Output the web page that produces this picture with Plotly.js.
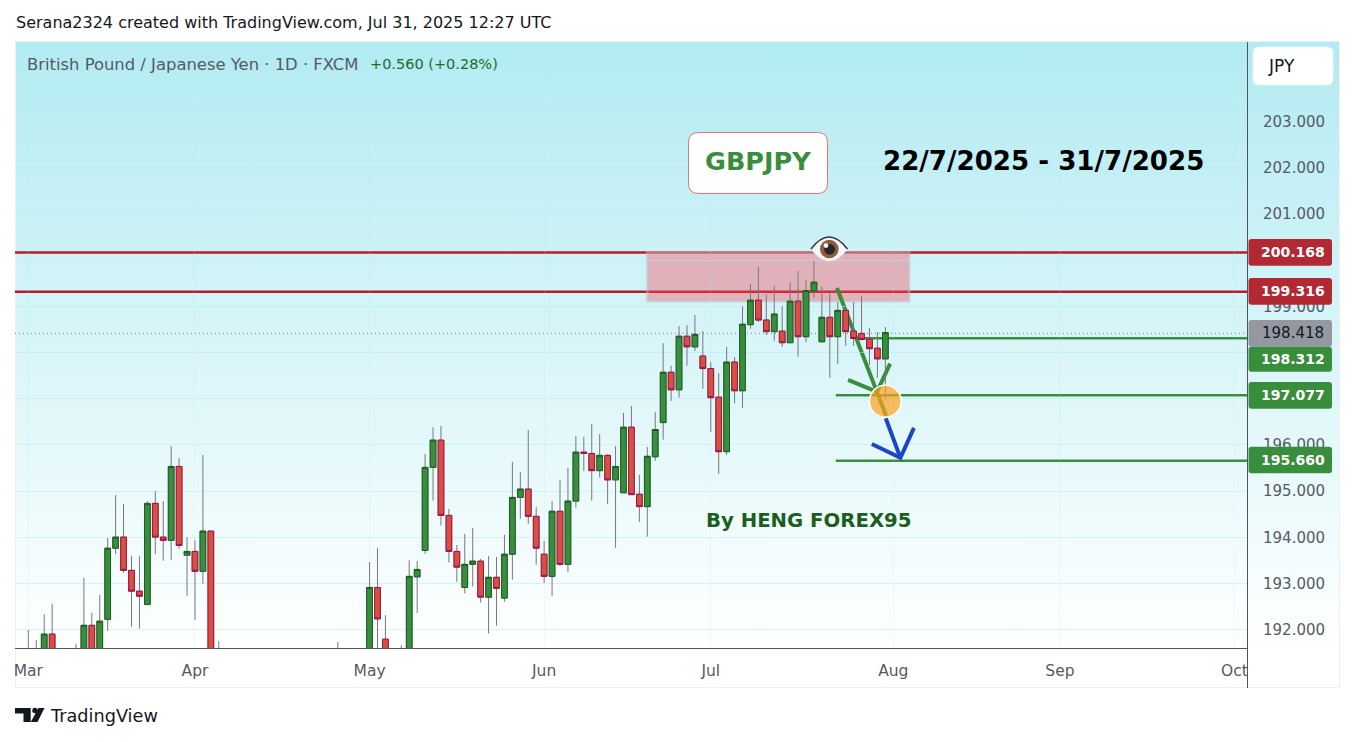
<!DOCTYPE html>
<html>
<head>
<meta charset="utf-8">
<script src="https://cdn.plot.ly/plotly-3.0.1.min.js"></script>
<style>
html,body{margin:0;padding:0;background:#fff;width:1355px;height:742px;overflow:hidden}
#panel{position:absolute;left:15px;top:41px;width:1325px;height:647px;box-sizing:border-box;border:1px solid #eef1f2;
background:linear-gradient(to bottom,#b2ebf2 0,#ffffff 606px)}
#chart{position:absolute;left:0;top:0;width:1355px;height:742px}
</style>
</head>
<body>
<div id="panel"></div>
<div id="chart"></div>
<script>
// Trading-day index of each visible candle (0 = 3 Mar 2025, 108 = 31 Jul 2025)
const candleIndex=[0,1,2,3,6,7,8,9,10,11,12,13,14,15,16,17,18,19,20,21,22,23,24,39,43,44,45,47,48,49,50,51,52,53,54,55,56,57,58,59,60,61,62,63,64,65,66,67,68,69,70,71,72,73,74,75,76,77,78,79,80,81,82,83,84,85,86,87,88,89,90,91,92,93,94,95,96,97,98,99,100,101,102,103,104,105,106,107,108];
const opens=[191.5,191.4,191.3,191.89,191.4,191.2,192.08,191.3,192.21,193.75,193.99,193.27,192.82,192.53,194.72,193.99,193.92,195.52,193.6,193.68,193.25,194.12,191.0,191.3,191.0,192.9,191.78,191.45,191.2,193.13,193.7,195.5,196.09,194.46,193.68,192.9,193.4,193.47,192.69,193.12,192.67,193.62,194.85,195.03,194.44,193.62,193.14,194.55,193.4,194.77,195.83,195.8,195.43,195.76,195.23,194.95,196.37,194.92,194.65,195.73,196.47,197.56,197.18,198.34,198.11,197.91,197.64,197.02,195.84,197.78,197.16,198.59,199.12,198.69,198.44,198.45,198.2,199.1,198.33,199.32,198.22,198.75,198.33,198.9,198.45,198.4,198.28,198.08,197.85];
const highs=[191.98,191.76,192.32,192.54,191.68,193.11,192.35,192.74,193.97,194.9,194.71,193.58,193.58,194.77,194.99,194.77,195.96,195.7,193.99,193.92,195.77,194.12,191.74,191.72,193.45,193.75,192.3,191.65,193.49,193.47,195.79,196.37,196.4,194.6,193.82,194.06,194.19,193.52,193.58,193.56,194.04,195.62,195.4,196.31,194.64,193.91,194.77,195.23,195.49,196.18,196.16,196.44,196.22,195.79,195.96,196.68,196.83,195.34,195.94,196.7,198.19,197.7,198.56,198.58,198.8,198.45,197.78,197.54,198.11,197.89,198.99,199.47,199.84,199.25,199.43,198.99,199.51,199.75,199.56,199.97,199.41,199.29,199.08,198.9,199.08,199.21,198.52,198.43,198.54];
const lows=[191.2,191.1,191.1,191.0,191.0,191.0,191.1,191.1,191.96,193.62,193.22,192.05,192.01,192.53,193.62,193.48,193.49,193.74,192.72,192.2,192.98,190.8,189.5,191.0,190.9,191.2,191.1,191.1,191.1,192.35,193.63,194.78,194.24,193.44,193.02,192.77,192.92,192.57,191.9,192.07,192.59,193.07,194.39,194.28,193.39,193.0,192.72,193.37,193.24,194.63,195.42,194.78,195.28,194.71,193.76,194.95,194.91,194.32,194.0,195.64,196.1,196.94,197.01,197.7,198.02,197.2,196.27,195.36,195.77,196.89,196.79,198.5,198.65,198.37,198.24,198.11,198.2,197.89,198.21,199.17,198.22,197.44,197.74,198.13,198.13,198.25,197.72,197.44,196.96];
const closes=[191.4,191.5,191.89,191.2,191.2,192.08,191.3,192.17,193.75,193.99,193.27,192.82,192.71,194.72,193.99,193.92,195.52,193.81,193.68,193.25,194.12,191.0,190.0,191.1,192.9,192.22,191.3,191.3,193.14,193.29,195.5,196.09,194.46,193.68,193.34,193.4,193.47,192.69,193.12,192.88,193.62,194.85,195.03,194.44,193.75,193.14,194.55,193.4,194.77,195.83,195.8,195.43,195.76,195.23,195.52,196.37,194.91,194.65,195.74,196.32,197.56,197.18,198.34,198.11,198.38,197.64,197.01,195.84,197.78,197.16,198.6,199.12,198.69,198.44,198.82,198.2,199.1,198.33,199.33,199.51,198.75,198.33,198.9,198.44,198.29,198.27,198.07,197.85,198.418];

const priceTicks=[192,193,194,195,196,197,198,199,200,201,202,203];
const priceLabels=['192.000','193.000','194.000','195.000','196.000','','','199.000','','201.000','202.000','203.000'];
const monthTicks=[0,21,43,65,86,109,130,152];
const monthLabels=['Mar','Apr','May','Jun','Jul','Aug','Sep','Oct'];

const resistanceLevels=[200.168,199.316];
const lastPrice=198.418;
const supportLevels=[198.312,197.077,195.660];
const supportStarts=[105,101.75,101.75];
const zoneIndex=[78,111];

const GREEN='#388e3c',RED='#b22833',DARKGREEN='#1b5e20',FONT='"DejaVu Sans",sans-serif';
const L=15,R=1248,T=42,B=648;
const PX=x=>(x-L)/(R-L), PY=y=>(B-y)/(B-T);
const pt=(x,y)=>PX(x).toFixed(5)+' '+PY(y).toFixed(5);
function roundRect(x0,y0,x1,y1,r){
  return 'M'+pt(x0+r,y0)+' L'+pt(x1-r,y0)+' Q'+pt(x1,y0)+' '+pt(x1,y0+r)+' L'+pt(x1,y1-r)+' Q'+pt(x1,y1)+' '+pt(x1-r,y1)+' L'+pt(x0+r,y1)+' Q'+pt(x0,y1)+' '+pt(x0,y1-r)+' L'+pt(x0,y0+r)+' Q'+pt(x0,y0)+' '+pt(x0+r,y0)+' Z';
}
const paperPath=(path,fill,line,width,layer)=>({type:'path',xref:'paper',yref:'paper',path,fillcolor:fill,line:{color:line||'rgba(0,0,0,0)',width:width||0},layer:layer||'above'});
const circle=(cx,cy,r,fill)=>({type:'circle',xref:'paper',yref:'paper',x0:PX(cx-r),x1:PX(cx+r),y0:PY(cy+r),y1:PY(cy-r),fillcolor:fill,line:{width:0},layer:'above'});
const dataPath=(path,color,width,layer)=>({type:'path',xref:'x',yref:'y',path,line:{color,width},layer:layer||'below'});

const shapes=[];
// support / resistance zone
shapes.push({type:'rect',xref:'x',yref:'y',x0:zoneIndex[0],x1:zoneIndex[1],y0:199.11,y1:resistanceLevels[0],fillcolor:'rgba(252,71,86,0.38)',line:{color:'rgba(190,190,200,0.45)',width:3},layer:'below'});
resistanceLevels.forEach(v=>shapes.push({type:'line',xref:'paper',yref:'y',x0:0,x1:1,y0:v,y1:v,line:{color:'#b71c2c',width:2.5},layer:'below'}));
shapes.push({type:'line',xref:'paper',yref:'y',x0:0,x1:1,y0:lastPrice,y1:lastPrice,line:{color:'#787b86',width:1,dash:'1px,3px'},layer:'below'});
supportLevels.forEach((v,i)=>shapes.push({type:'line',xref:'x',yref:'y',x0:supportStarts[i],x1:153.7,y0:v,y1:v,line:{color:GREEN,width:2.5},layer:'below'}));
// green arrow
shapes.push(dataPath('M101.9 199.40 L108.1 196.63',GREEN,4));
shapes.push(dataPath('M103.3 197.41 L106.95 197.15 L108.6 197.76',GREEN,4));
// blue arrow
shapes.push(dataPath('M108.05 196.58 L109.9 195.72','#1a47c8',4,'above'));
shapes.push(dataPath('M106.3 196.02 L109.9 195.72 L111.6 196.37','#1a47c8',4,'above'));
// orange marker
shapes.push({type:'circle',xref:'x',yref:'y',x0:106,x1:110,y0:196.6,y1:197.295,fillcolor:'rgba(253,161,30,0.7)',line:{color:'#ffffff',width:1.5},layer:'above'});
// eye
shapes.push(paperPath('M'+pt(811,249)+' Q'+pt(829,225)+' '+pt(847.5,249)+' Q'+pt(829,273)+' '+pt(811,249)+' Z','#f4f7f9','#e4e8ec',1));
shapes.push(paperPath('M'+pt(811,249)+' Q'+pt(829,225)+' '+pt(847.5,249),'rgba(0,0,0,0)','#33363d',1.5));
shapes.push(circle(829.3,249,9.3,'#8f5b3a'));
shapes.push(circle(829.6,249.3,5.4,'#23262b'));
shapes.push(circle(826,245.6,2.4,'#ffffff'));
// GBPJPY box
shapes.push(paperPath(roundRect(688.5,132.5,827.5,193.5,10),'#ffffff','#e57373',1));
// currency box
shapes.push(paperPath(roundRect(1253,47,1333,85,6),'#ffffff','#eef1f2',1));
// clip of the time labels and lower axis line
shapes.push({type:'rect',xref:'paper',yref:'paper',x0:PX(0),x1:PX(14.5),y0:PY(688),y1:PY(650),fillcolor:'#ffffff',line:{width:0},layer:'above'});
shapes.push({type:'rect',xref:'paper',yref:'paper',x0:PX(1248),x1:PX(1339),y0:PY(687),y1:PY(649),fillcolor:'#ffffff',line:{width:0},layer:'above'});
shapes.push({type:'line',xref:'paper',yref:'paper',x0:PX(1247.5),x1:PX(1247.5),y0:PY(42),y1:PY(688),line:{color:'#50535e',width:1},layer:'above'});
// price labels
const labelBoxes=[[239,265.7,RED],[278,304.7,RED],[320,346.7,'#9598a1'],[346.7,371.7,GREEN],[382,408.7,GREEN],[446.7,473.3,GREEN]];
labelBoxes.forEach(b=>shapes.push(paperPath(roundRect(1248.5,b[0],1332,b[1],3),b[2])));
// TradingView logo
shapes.push(paperPath('M'+pt(15,708)+' L'+pt(30.7,708)+' L'+pt(30.7,722)+' L'+pt(23.5,722)+' L'+pt(23.5,713.5)+' L'+pt(15,713.5)+' Z','#131722'));
shapes.push(circle(35,710.5,2.7,'#131722'));
shapes.push(paperPath('M'+pt(38.5,708)+' L'+pt(44.5,708)+' L'+pt(37.5,722)+' L'+pt(30.8,722)+' Z','#131722'));

const note=(x,y,text,size,color,extra)=>Object.assign({xref:'paper',yref:'paper',x:PX(x),y:PY(y),text,showarrow:false,xanchor:'left',yanchor:'middle',font:{family:FONT,size,color},borderpad:0},extra||{});
const annotations=[
 note(15,23,'Serana2324 created with TradingView.com, Jul 31, 2025 12:27 UTC',16,'#131722'),
 note(26,64,'British Pound / Japanese Yen · 1D · FXCM',16.4,'#555a63'),
 note(369,64,'+0.560 (+0.28%)',14.5,'#1b6b26'),
 note(49,716,'TradingView',17.7,'#131722'),
 note(758,161,'<b>GBPJPY</b>',25.5,GREEN,{xanchor:'center'}),
 note(882,161,'<b>22/7/2025 - 31/7/2025</b>',26.1,'#000000'),
 note(705,520,'<b>By HENG FOREX95</b>',19.7,DARKGREEN),
 note(1281,66,'JPY',17,'#131722',{xanchor:'center'})
];
[[252.4,resistanceLevels[0],'#ffffff'],[291.4,resistanceLevels[1],'#ffffff'],[333.4,lastPrice,'#131722'],[359.2,supportLevels[0],'#ffffff'],[395.4,supportLevels[1],'#ffffff'],[460,supportLevels[2],'#ffffff']].forEach(a=>{
  const white=a[2]==='#ffffff';
  annotations.push(note(1293,a[0],(white?'<b>':'')+a[1].toFixed(3)+(white?'</b>':''),white?14:15,a[2],{xanchor:'center'}));
});

// the picture's scale sits 0.015 above the one the candles were first read against
const readOffset=0.015;
const adj=a=>a.map(v=>v+readOffset);
const O=adj(opens),H=adj(highs),Lo=adj(lows),C=adj(closes);
const wickColor='#787878';
const traces=[
 {type:'candlestick',x:candleIndex,open:O,high:H,low:Lo,close:C,whiskerwidth:0,
  increasing:{line:{color:wickColor,width:1},fillcolor:'rgba(0,0,0,0)'},decreasing:{line:{color:wickColor,width:1},fillcolor:'rgba(0,0,0,0)'},showlegend:false,hoverinfo:'skip'},
 {type:'candlestick',x:candleIndex,open:O,close:C,
  high:O.map((o,i)=>Math.max(o,C[i])),low:O.map((o,i)=>Math.min(o,C[i])),whiskerwidth:0,
  increasing:{line:{color:DARKGREEN,width:1},fillcolor:GREEN},decreasing:{line:{color:'#a0104f',width:1},fillcolor:'#d95040'},showlegend:false,hoverinfo:'skip'}
];
const layout={
 width:1355,height:742,autosize:false,margin:{l:L,r:1355-R,t:T,b:742-B,pad:0},
 paper_bgcolor:'rgba(0,0,0,0)',plot_bgcolor:'rgba(0,0,0,0)',showlegend:false,hovermode:false,boxmode:'overlay',boxgap:0.2,boxgroupgap:0.1,
 xaxis:{type:'linear',range:[-1.68,153.7],rangeslider:{visible:false},tickmode:'array',tickvals:monthTicks,ticktext:monthLabels,
  showgrid:true,gridcolor:'rgba(178,235,242,0.22)',zeroline:false,showline:true,linecolor:'#50535e',linewidth:1,
  ticks:'outside',ticklen:8,tickcolor:'rgba(0,0,0,0)',tickfont:{family:FONT,size:15.5,color:'#555a63'}},
 yaxis:{type:'linear',side:'right',range:[191.604,204.726],tickmode:'array',tickvals:priceTicks,ticktext:priceLabels,
  showgrid:true,gridcolor:'rgba(178,235,242,0.5)',zeroline:false,showline:false,
  ticks:'outside',ticklen:11,tickcolor:'rgba(0,0,0,0)',tickfont:{family:FONT,size:15,color:'#555a63'}},
 shapes,annotations
};
Plotly.newPlot('chart',traces,layout,{staticPlot:true,displayModeBar:false});
</script>
</body>
</html>
